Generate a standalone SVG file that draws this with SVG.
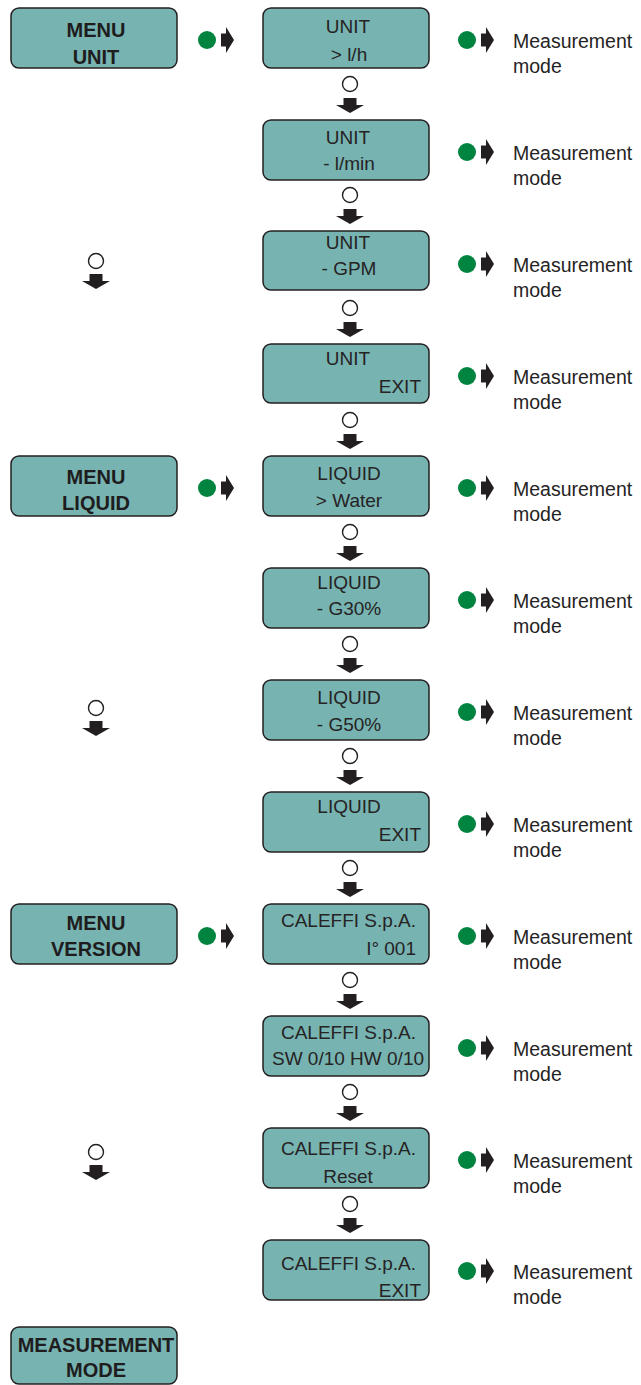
<svg xmlns="http://www.w3.org/2000/svg" width="641" height="1385" viewBox="0 0 641 1385">
<style>
.box{fill:#76b3b1;stroke:#231f20;stroke-width:1.5}
.t{font-family:"Liberation Sans",Arial,sans-serif;font-size:19px;fill:#262324}
.b{font-family:"Liberation Sans",Arial,sans-serif;font-size:20px;font-weight:bold;fill:#1e1c1d;text-anchor:middle}
.c{text-anchor:middle}
.r{text-anchor:end}
.m{font-family:"Liberation Sans",Arial,sans-serif;font-size:19.5px;fill:#262324}
.g{fill:#00843f}
.o{fill:#fff;stroke:#231f20;stroke-width:1.4}
.a{fill:#231f20}
</style>
<defs>
<path id="ra" d="M-13,-6.5 L-8,-6.5 L-8,-13 L0,0 L-8,13 L-8,6.5 L-13,6.5 Z"/>
<path id="da" d="M-6.5,-15 L6.5,-15 L6.5,-8 L14,-8 L0,0 L-14,-8 L-6.5,-8 Z"/>
</defs>

<g id="menu-unit"><rect class="box" x="11" y="8" width="166" height="60" rx="8"/><text class="b" x="96" y="37">MENU</text><text class="b" x="96" y="64">UNIT</text></g>
<g id="menu-liquid"><rect class="box" x="11" y="456" width="166" height="60" rx="8"/><text class="b" x="96" y="484">MENU</text><text class="b" x="96" y="510">LIQUID</text></g>
<g id="menu-version"><rect class="box" x="11" y="904" width="166" height="60" rx="8"/><text class="b" x="96" y="930">MENU</text><text class="b" x="96" y="956">VERSION</text></g>
<g id="measurement-mode"><rect class="box" x="11" y="1327" width="166" height="57" rx="8"/><text class="b" x="96" y="1352">MEASUREMENT</text><text class="b" x="96" y="1377">MODE</text></g>

<g id="n1"><rect class="box" x="263" y="8" width="166" height="60" rx="8"/><text class="t c" x="348" y="33">UNIT</text><text class="t c" x="349" y="61">&gt; l/h</text></g>
<g id="n2"><rect class="box" x="263" y="120" width="166" height="60" rx="8"/><text class="t c" x="348" y="144">UNIT</text><text class="t c" x="349" y="170">- l/min</text></g>
<g id="n3"><rect class="box" x="263" y="231" width="166" height="59" rx="8"/><text class="t c" x="348" y="249">UNIT</text><text class="t c" x="349" y="275">- GPM</text></g>
<g id="n4"><rect class="box" x="263" y="344" width="166" height="59" rx="8"/><text class="t c" x="348" y="365">UNIT</text><text class="t r" x="421" y="393">EXIT</text></g>
<g id="n5"><rect class="box" x="263" y="456" width="166" height="60" rx="8"/><text class="t c" x="349" y="480">LIQUID</text><text class="t c" x="349" y="507">&gt; Water</text></g>
<g id="n6"><rect class="box" x="263" y="568" width="166" height="60" rx="8"/><text class="t c" x="349" y="589">LIQUID</text><text class="t c" x="349" y="615">- G30%</text></g>
<g id="n7"><rect class="box" x="263" y="680" width="166" height="60" rx="8"/><text class="t c" x="349" y="704">LIQUID</text><text class="t c" x="349" y="731">- G50%</text></g>
<g id="n8"><rect class="box" x="263" y="792" width="166" height="60" rx="8"/><text class="t c" x="349" y="813">LIQUID</text><text class="t r" x="421" y="841">EXIT</text></g>
<g id="n9"><rect class="box" x="263" y="904" width="166" height="60" rx="8"/><text class="t c" x="348.5" y="927">CALEFFI S.p.A.</text><text class="t r" x="416" y="955">I° 001</text></g>
<g id="n10"><rect class="box" x="263" y="1016" width="166" height="60" rx="8"/><text class="t c" x="348.5" y="1039">CALEFFI S.p.A.</text><text class="t c" x="348" y="1065">SW 0/10 HW 0/10</text></g>
<g id="n11"><rect class="box" x="263" y="1128" width="166" height="60" rx="8"/><text class="t c" x="348.5" y="1155">CALEFFI S.p.A.</text><text class="t c" x="348" y="1183">Reset</text></g>
<g id="n12"><rect class="box" x="263" y="1240" width="166" height="60" rx="8"/><text class="t c" x="348.5" y="1270">CALEFFI S.p.A.</text><text class="t r" x="421" y="1297">EXIT</text></g>

<g id="outputs">
<text class="m" x="513" y="48">Measurement</text><text class="m" x="513" y="73">mode</text>
<text class="m" x="513" y="160">Measurement</text><text class="m" x="513" y="185">mode</text>
<text class="m" x="513" y="272">Measurement</text><text class="m" x="513" y="297">mode</text>
<text class="m" x="513" y="384">Measurement</text><text class="m" x="513" y="409">mode</text>
<text class="m" x="513" y="496">Measurement</text><text class="m" x="513" y="521">mode</text>
<text class="m" x="513" y="608">Measurement</text><text class="m" x="513" y="633">mode</text>
<text class="m" x="513" y="720">Measurement</text><text class="m" x="513" y="745">mode</text>
<text class="m" x="513" y="832">Measurement</text><text class="m" x="513" y="857">mode</text>
<text class="m" x="513" y="944">Measurement</text><text class="m" x="513" y="969">mode</text>
<text class="m" x="513" y="1056">Measurement</text><text class="m" x="513" y="1081">mode</text>
<text class="m" x="513" y="1168">Measurement</text><text class="m" x="513" y="1193">mode</text>
<text class="m" x="513" y="1279">Measurement</text><text class="m" x="513" y="1304">mode</text>
</g>

<g id="connectors">
<!-- left green dots + arrows -->
<circle class="g" cx="207" cy="40" r="9"/><use href="#ra" class="a" x="234" y="40"/>
<circle class="g" cx="207" cy="488" r="9"/><use href="#ra" class="a" x="234" y="488"/>
<circle class="g" cx="207" cy="936" r="9"/><use href="#ra" class="a" x="234" y="936"/>
<!-- right green dots + arrows -->
<circle class="g" cx="467" cy="40" r="9"/><use href="#ra" class="a" x="494" y="40"/>
<circle class="g" cx="467" cy="152" r="9"/><use href="#ra" class="a" x="494" y="152"/>
<circle class="g" cx="467" cy="264" r="9"/><use href="#ra" class="a" x="494" y="264"/>
<circle class="g" cx="467" cy="376" r="9"/><use href="#ra" class="a" x="494" y="376"/>
<circle class="g" cx="467" cy="488" r="9"/><use href="#ra" class="a" x="494" y="488"/>
<circle class="g" cx="467" cy="600" r="9"/><use href="#ra" class="a" x="494" y="600"/>
<circle class="g" cx="467" cy="712" r="9"/><use href="#ra" class="a" x="494" y="712"/>
<circle class="g" cx="467" cy="824" r="9"/><use href="#ra" class="a" x="494" y="824"/>
<circle class="g" cx="467" cy="936" r="9"/><use href="#ra" class="a" x="494" y="936"/>
<circle class="g" cx="467" cy="1048" r="9"/><use href="#ra" class="a" x="494" y="1048"/>
<circle class="g" cx="467" cy="1160" r="9"/><use href="#ra" class="a" x="494" y="1160"/>
<circle class="g" cx="467" cy="1271" r="9"/><use href="#ra" class="a" x="494" y="1271"/>
<!-- vertical open circle + down arrows -->
<circle class="o" cx="350" cy="84" r="7.5"/><use href="#da" class="a" x="350" y="113"/>
<circle class="o" cx="350" cy="195" r="7.5"/><use href="#da" class="a" x="350" y="224"/>
<circle class="o" cx="350" cy="308" r="7.5"/><use href="#da" class="a" x="350" y="337"/>
<circle class="o" cx="350" cy="420" r="7.5"/><use href="#da" class="a" x="350" y="449"/>
<circle class="o" cx="350" cy="532" r="7.5"/><use href="#da" class="a" x="350" y="561"/>
<circle class="o" cx="350" cy="644" r="7.5"/><use href="#da" class="a" x="350" y="673"/>
<circle class="o" cx="350" cy="756" r="7.5"/><use href="#da" class="a" x="350" y="785"/>
<circle class="o" cx="350" cy="868" r="7.5"/><use href="#da" class="a" x="350" y="897"/>
<circle class="o" cx="350" cy="980" r="7.5"/><use href="#da" class="a" x="350" y="1009"/>
<circle class="o" cx="350" cy="1092" r="7.5"/><use href="#da" class="a" x="350" y="1121"/>
<circle class="o" cx="350" cy="1204" r="7.5"/><use href="#da" class="a" x="350" y="1233"/>
<!-- left open circle + down arrows -->
<circle class="o" cx="96" cy="261" r="7.5"/><use href="#da" class="a" x="96" y="289"/>
<circle class="o" cx="96" cy="708" r="7.5"/><use href="#da" class="a" x="96" y="736"/>
<circle class="o" cx="96" cy="1152" r="7.5"/><use href="#da" class="a" x="96" y="1180"/>
</g>
</svg>
